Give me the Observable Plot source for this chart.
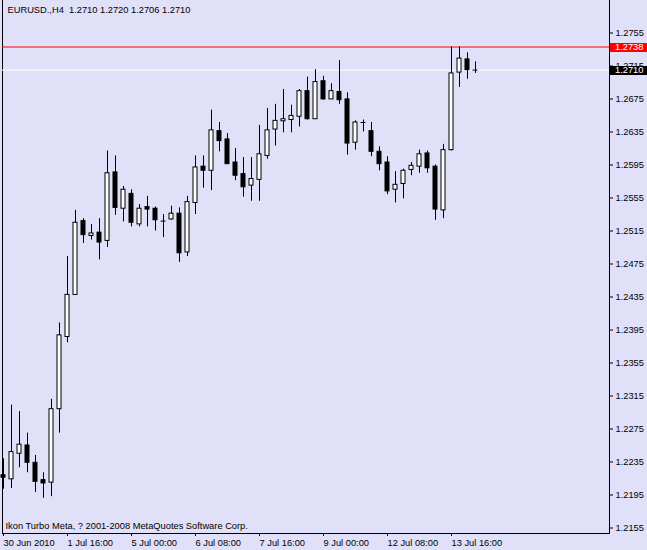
<!DOCTYPE html>
<html>
<head>
<meta charset="utf-8">
<script src="https://cdn.jsdelivr.net/npm/d3@7"></script>
<script src="https://cdn.jsdelivr.net/npm/@observablehq/plot@0.6"></script>
<style>
  html, body { margin: 0; padding: 0; background: #e0e0f8; }
  svg { display: block; }
</style>
</head>
<body>
<div id="chart"></div>
<script>
// ---- Data (EURUSD H4) ----
const symbolLabel = "EURUSD.,H4";
const open = [1.2219,1.2214,1.2245,1.2255,1.2234,1.2213,1.2210,1.2299,1.23865,1.24375,
  1.2527,1.2509,1.2513,1.2503,1.2586,1.2542,1.2560,1.2523,1.2544,1.2542,
  1.2527,1.2529,1.2536,1.2489,1.2549,1.2593,1.2588,1.2636,1.2626,1.2598,
  1.2584,1.2570,1.2577,1.2606,1.2638,1.2648,1.26495,1.26535,1.26845,1.26505,
  1.26965,1.26745,1.26835,1.26745,1.2622,1.26465,1.2636,1.2611,1.2598,1.2565,
  1.2572,1.2589,1.2593,1.2609,1.2593,1.2540,1.2613,1.2707,1.2723,1.2710];
const high = [1.2239,1.2304,1.2296,1.2270,1.2243,1.2222,1.2311,1.24035,1.2484,1.2540,
  1.2530,1.2523,1.2530,1.2612,1.2606,1.2569,1.2565,1.2547,1.2557,1.2544,
  1.2535,1.2545,1.2543,1.2557,1.2606,1.2606,1.26615,1.26465,1.2633,1.2615,
  1.2604,1.2604,1.2643,1.26635,1.26685,1.26865,1.26675,1.26865,1.27015,1.27105,
  1.27025,1.26935,1.27215,1.26825,1.26485,1.26495,1.26465,1.2617,1.2605,1.2587,
  1.2590,1.2598,1.2613,1.2612,1.2595,1.2620,1.2738,1.2738,1.2731,1.2720];
const low = [1.2202,1.2203,1.2228,1.2222,1.2198,1.2191,1.2193,1.2270,1.23795,1.24375,
  1.2500,1.2504,1.2480,1.2495,1.2534,1.2526,1.2520,1.2520,1.2520,1.2515,
  1.2507,1.2528,1.2477,1.2484,1.2535,1.2567,1.2564,1.2611,1.2596,1.2576,
  1.2556,1.2551,1.2551,1.2602,1.2618,1.2634,1.2634,1.2641,1.26495,1.26505,
  1.26735,1.26745,1.26685,1.2607,1.2613,1.2635,1.2605,1.2588,1.2559,1.2549,
  1.2554,1.2582,1.2585,1.2585,1.2528,1.2530,1.2612,1.2689,1.2699,1.2706];
const close = [1.2216,1.2247,1.2256,1.2234,1.2211,1.2209,1.2299,1.23885,1.24375,1.2525,
  1.2510,1.2512,1.2501,1.2585,1.2543,1.2565,1.2525,1.2542,1.2541,1.2528,
  1.2527,1.2536,1.2488,1.2550,1.2592,1.2588,1.2637,1.2624,1.2596,1.2582,
  1.2568,1.2578,1.2608,1.2637,1.26485,1.26505,1.26545,1.26845,1.26505,1.26955,
  1.26745,1.26845,1.26735,1.2621,1.26465,1.26465,1.2611,1.2596,1.2563,1.2571,
  1.2588,1.2594,1.2608,1.2591,1.2541,1.2613,1.2706,1.2724,1.2710,1.2710];

const xTickBars = [0, 8, 16, 24, 32, 40, 48, 56];
const xTickLabels = ["30 Jun 2010", "1 Jul 16:00", "5 Jul 00:00", "6 Jul 08:00",
  "7 Jul 16:00", "9 Jul 00:00", "12 Jul 08:00", "13 Jul 16:00"];
const yTicks = [1.2155, 1.2195, 1.2235, 1.2275, 1.2315, 1.2355, 1.2395, 1.2435,
  1.2475, 1.2515, 1.2555, 1.2595, 1.2635, 1.2675, 1.2715, 1.2755];
const bidLevel = 1.2710;
const redLevel = 1.2738;
const captionText = "Ikon Turbo Meta, ? 2001-2008 MetaQuotes Software Corp.";

// ---- Build table ----
const bars = open.map((o, i) => ({i, open: o, high: high[i], low: low[i], close: close[i]}));
const last = bars[bars.length - 1];
const f4 = d3.format(".4f");
const headerText = `${symbolLabel}\u00a0\u00a0${f4(last.open)} ${f4(last.high)} ${f4(last.low)} ${f4(last.close)}`;

const BG = "#e0e0f8";
const FONT = "'Liberation Sans', Arial, sans-serif";

const chart = Plot.plot({
  width: 647,
  height: 550,
  marginLeft: 2,
  marginRight: 38,
  marginTop: 0,
  marginBottom: 17,
  style: {background: BG, fontFamily: FONT, fontSize: "9.3px", color: "black", overflow: "visible"},
  x: {type: "linear", domain: [-0.125, 75.75], axis: null},
  y: {type: "linear", domain: [1.214833, 1.279439], axis: null},
  marks: [
    Plot.frame({anchor: "left", stroke: "black"}),
    Plot.frame({anchor: "right", stroke: "black"}),
    Plot.frame({anchor: "bottom", stroke: "black"}),
    Plot.axisY({anchor: "right", ticks: yTicks, tickSize: 3, tickPadding: 3,
      tickFormat: f4, fontSize: 9.3, label: null}),
    Plot.axisX({anchor: "bottom", ticks: xTickBars, tickSize: 3, tickPadding: 3, label: null,
      tickFormat: d => xTickLabels[xTickBars.indexOf(d)], textAnchor: "start", dx: 0, fontSize: 9.3}),
    Plot.ruleY([bidLevel], {stroke: "white"}),
    Plot.ruleY([redLevel], {stroke: "red"}),
    Plot.ruleX(bars, {x: "i", y1: "low", y2: "high", stroke: "black"}),
    Plot.rect(bars.filter(d => d.close > d.open), {x1: d => d.i - 0.25, x2: d => d.i + 0.25,
      y1: "open", y2: "close", fill: "white", stroke: "black"}),
    Plot.rect(bars.filter(d => d.close < d.open), {x1: d => d.i - 0.25, x2: d => d.i + 0.25,
      y1: "open", y2: "close", fill: "black", stroke: "black"}),
    Plot.ruleY(bars.filter(d => d.close === d.open), {y: "open",
      x1: d => d.i - 0.3125, x2: d => d.i + 0.3125, stroke: "black"}),
    Plot.text([headerText], {frameAnchor: "top-left", dx: 5, dy: 6, textAnchor: "start",
      lineAnchor: "top", fill: "black", fontSize: 9.3}),
    Plot.text([captionText], {frameAnchor: "bottom-left", dx: 3, dy: -5, textAnchor: "start",
      lineAnchor: "bottom", fill: "black", fontSize: 9.3})
  ]
});

// price label boxes on the right axis, positioned with Plot's y scale
const yScale = chart.scale("y");
const g = d3.select(chart).append("g")
  .attr("font-family", FONT).attr("font-size", "9.3px").attr("text-anchor", "start");
[[redLevel, "red"], [bidLevel, "black"]].forEach(([v, col]) => {
  const yy = Math.round(yScale.apply(v));
  g.append("rect").attr("x", 610).attr("y", yy - 4).attr("width", 37).attr("height", 9).attr("fill", col);
  g.append("text").attr("x", 615).attr("y", yy + 0.5).attr("dy", "0.32em")
    .attr("text-anchor", "start").attr("fill", "white").text(f4(v));
});

document.getElementById("chart").appendChild(chart);
</script>
</body>
</html>
